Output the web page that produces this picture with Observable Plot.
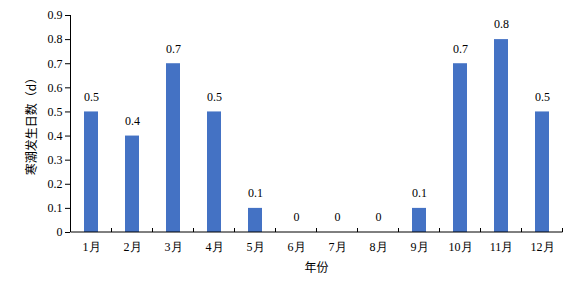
<!DOCTYPE html>
<html><head><meta charset="utf-8">
<script src="https://cdn.jsdelivr.net/npm/d3@7"></script>
<script src="https://cdn.jsdelivr.net/npm/@observablehq/plot@0.6"></script>
<style>body{margin:0;background:#fff;} #chart{width:579px;height:285px;}</style>
</head><body><div id="chart"></div>
<script>
const months = ["1月","2月","3月","4月","5月","6月","7月","8月","9月","10月","11月","12月"];
const days = [0.5,0.4,0.7,0.5,0.1,0,0,0,0.1,0.7,0.8,0.5];
const yTicks = [0,0.1,0.2,0.3,0.4,0.5,0.6,0.7,0.8,0.9];
const yLabel = "寒潮发生日数（d）";
const xLabel = "年份";

const data = months.map((m,i)=>({month:m, value:days[i]}));
const serif = "Liberation Serif";
const plot = Plot.plot({
  width:579, height:285,
  marginLeft:70, marginRight:17, marginTop:15, marginBottom:53,
  style:{fontSize:"12px", color:"#000", background:"#fff"},
  x:{domain:months, paddingInner:0.66, paddingOuter:0.33, axis:null},
  y:{domain:[0,0.9], axis:null},
  marks:[
    Plot.barY(data,{x:"month", y:"value", fill:"#4472C4"}),
    Plot.text(data,{x:"month", y:"value", text:d=>String(d.value), dy:-15, fontSize:12, fontFamily:serif, fill:"#000"}),
    Plot.axisY({ticks:yTicks, tickFormat:d=>String(d), tickSize:5, tickPadding:3, label:null, stroke:"#000", fill:"#000", fontFamily:serif, fontSize:12}),
    Plot.axisX({tickSize:0, tickPadding:10, label:null, fill:"#000", fontFamily:serif, fontSize:12})
  ]
});
document.getElementById("chart").appendChild(plot);

const svg = d3.select(plot);
const xs = plot.scale("x"), ys = plot.scale("y");
const y0 = ys.apply(0), y9 = ys.apply(0.9);
const starts = months.map(m=>xs.apply(m));
const bw = xs.bandwidth;
const stepPx = xs.step;
const left0 = starts[0] - (stepPx - bw)/2;
const bounds = [];
for (let i=0;i<=months.length;i++) bounds.push(left0 + i*stepPx);
svg.append("line").attr("x1",bounds[0]).attr("x2",bounds[bounds.length-1]).attr("y1",y0).attr("y2",y0).attr("stroke","#000");
svg.append("line").attr("x1",bounds[0]).attr("x2",bounds[0]).attr("y1",y0).attr("y2",y9).attr("stroke","#000");
bounds.slice(1).forEach(b=>svg.append("line").attr("x1",b).attr("x2",b).attr("y1",y0).attr("y2",y0-4).attr("stroke","#000"));
const cx = (bounds[0]+bounds[bounds.length-1])/2;
svg.append("text").attr("x",cx).attr("y",y0+40).attr("text-anchor","middle")
  .attr("font-family","Noto Sans CJK SC").attr("font-size","12").attr("fill","#000").text(xLabel);
svg.append("text").attr("transform",`translate(33,${(y0+y9)/2}) rotate(-90)`).attr("text-anchor","middle")
  .attr("dominant-baseline","middle")
  .attr("font-family","Noto Sans CJK SC").attr("font-size","12").attr("fill","#000").text(yLabel);
</script></body></html>
